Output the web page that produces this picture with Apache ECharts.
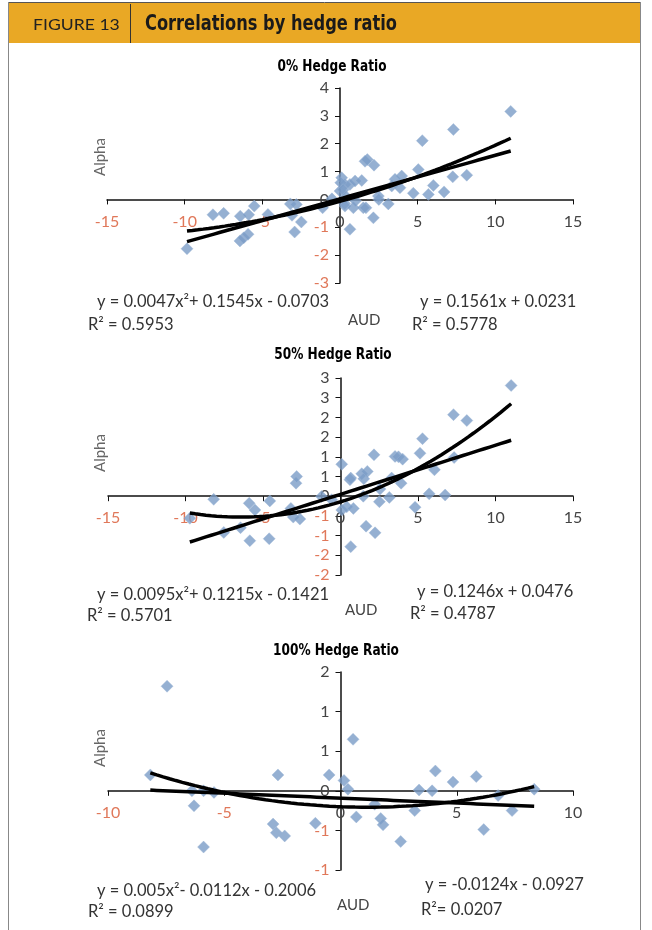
<!DOCTYPE html>
<html>
<head>
<meta charset="utf-8">
<script src="https://cdn.jsdelivr.net/npm/echarts@6/dist/echarts.min.js"></script>
<style>
  html, body { margin: 0; padding: 0; background: #fff; }
  #chart { width: 652px; height: 930px; }
</style>
</head>
<body>
<div id="chart"></div>
<script>
// scatter points [AUD, Alpha]
const hedge0Points = [
  [-9.85, -1.77], [-8.18, -0.55], [-7.49, -0.50], [-6.42, -0.60], [-5.88, -0.55],
  [-6.44, -1.49], [-6.2, -1.38], [-5.92, -1.25], [-5.52, -0.24], [-4.64, -0.54],
  [-3.20, -0.16], [-2.81, -0.18], [-3.09, -0.57], [-2.92, -1.17], [-2.49, -0.81],
  [-1.12, -0.30], [-0.52, 0.02], [0.11, 0.78], [0.32, 0.54], [0.64, 0.54],
  [0.97, 0.66], [1.40, 0.68], [1.61, 1.37], [1.76, 1.43], [2.19, 1.23],
  [0.0, 0.30], [0.05, 0.60], [0.2, 0.35], [0.4, 0.1], [0.3, -0.15],
  [0.32, -0.24], [0.86, -0.30], [0.64, -1.07], [1.50, -0.30], [1.67, -0.30],
  [2.15, -0.66], [2.47, 0.12], [2.5, 0.0], [3.11, -0.16], [3.33, 0.48],
  [3.54, 0.72], [3.86, 0.42], [3.97, 0.84], [4.72, 0.22], [5.04, 1.07],
  [5.30, 2.11], [5.69, 0.18], [6.01, 0.50], [6.70, 0.27], [7.26, 0.81],
  [7.30, 2.51], [8.16, 0.87], [10.99, 3.16], [1.0, -0.05]
];
const hedge50Points = [
  [-9.72, -0.56], [-8.18, -0.08], [-7.53, -0.92], [-6.45, -0.80], [-5.89, -0.18],
  [-5.85, -1.13], [-5.52, -0.35], [-4.56, -0.12], [-4.60, -1.08], [-3.20, -0.31],
  [-3.05, -0.53], [-2.62, -0.58], [-2.87, 0.33], [-2.83, 0.50], [-1.22, -0.01],
  [-0.57, -0.09], [0.08, 0.81], [0.08, -0.35], [0.40, -0.27], [0.61, 0.42],
  [0.66, 0.46], [0.83, -0.31], [0.66, -1.28], [1.37, 0.57], [1.50, 0.44],
  [1.73, 0.63], [1.47, 0.0], [1.65, -0.76], [2.16, 1.05], [2.23, -0.93],
  [2.51, -0.14], [2.55, 0.18], [3.15, -0.03], [3.3, 0.46], [3.52, 1.01],
  [3.74, 1.0], [4.01, 0.94], [3.91, 0.33], [4.81, -0.28], [5.13, 1.09],
  [5.29, 1.46], [5.72, 0.06], [6.06, 0.67], [6.75, 0.03], [7.29, 2.07],
  [7.33, 0.98], [8.15, 1.92], [11.01, 2.81]
];
const hedge100Points = [
  [-8.18, 0.20], [-7.46, 1.32], [-6.39, 0.0], [-6.30, -0.19], [-5.89, 0.0],
  [-5.89, -0.71], [-5.44, -0.02], [-2.90, -0.42], [-2.76, -0.53], [-2.69, 0.20],
  [-2.40, -0.57], [-1.08, -0.41], [-0.49, 0.20], [0.15, 0.13], [0.32, 0.02],
  [0.54, 0.65], [0.68, -0.33], [1.47, -0.17], [1.73, -0.35], [1.83, -0.43],
  [2.59, -0.64], [3.19, -0.25], [3.38, 0.01], [3.94, 0.0], [4.08, 0.25],
  [4.84, 0.11], [5.84, 0.18], [6.16, -0.49], [6.78, -0.06], [7.38, -0.25],
  [8.33, 0.02]
];

// trendline coefficients printed on the figure
const hedge0Poly = [0.0047, 0.1545, -0.0703];
const hedge0Lin = [0.1561, 0.0231];
const hedge50Poly = [0.0095, 0.1215, -0.1421];
const hedge50Lin = [0.1246, 0.0476];
const hedge100Poly = [0.005, -0.0112, -0.2006];
const hedge100Lin = [-0.0124, -0.0927];

const chartTitles = ['0% Hedge Ratio', '50% Hedge Ratio', '100% Hedge Ratio'];
const polyLabels = ['y = 0.0047x²+ 0.1545x - 0.0703', 'y = 0.0095x²+ 0.1215x - 0.1421', 'y = 0.005x²- 0.0112x - 0.2006'];
const polyR2 = ['R² = 0.5953', 'R² = 0.5701', 'R² = 0.0899'];
const linLabels = ['y = 0.1561x + 0.0231', 'y = 0.1246x + 0.0476', 'y = -0.0124x - 0.0927'];
const linR2 = ['R² = 0.5778', 'R² = 0.4787', 'R²= 0.0207'];

const xRanges = [[-15, 15, 5], [-15, 15, 5], [-10, 10, 5]];
const yRanges = [[-3, 4, 1], [-2, 3, 0.5], [-1, 1.5, 0.5]];

const NEG = '#E0785A';
const POS = '#444';
const DOT = '#7A9CC7';
const FONT = 'Lato, "Open Sans", sans-serif';
const BOLD = '"DejaVu Sans Condensed", "Liberation Sans Narrow", sans-serif';

function curve(coef, x0, x1) {
  const out = [];
  const n = 60;
  for (let i = 0; i <= n; i++) {
    const x = x0 + (x1 - x0) * i / n;
    let y = 0;
    coef.forEach(c => { y = y * x + c; });
    out.push([x, y]);
  }
  return out;
}

// excel "0" number format rounds half away from zero
function excelRound(v) {
  const r = Math.sign(v) * Math.round(Math.abs(v));
  return r === 0 ? '0' : String(r);
}

const datasets = [
  { pts: hedge0Points, poly: hedge0Poly, lin: hedge0Lin },
  { pts: hedge50Points, poly: hedge50Poly, lin: hedge50Lin },
  { pts: hedge100Points, poly: hedge100Poly, lin: hedge100Lin },
];

const grids = [
  { left: 107, top: 88, width: 466, height: 195 },
  { left: 108, top: 378, width: 465, height: 197 },
  { left: 108, top: 672, width: 465, height: 198 },
];

const textPos = [
  { title: [332, 67], alpha: 157, polyEq: [97, 302], polyR: [88, 325], linEq: [420, 302], linR: [412, 325], aud: [348, 320] },
  { title: [333, 355], alpha: 453, polyEq: [97, 595], polyR: [87, 616], linEq: [417, 592], linR: [410, 614], aud: [345, 610] },
  { title: [336, 651], alpha: 748, polyEq: [97, 891], polyR: [88, 912], linEq: [425, 885], linR: [421, 910], aud: [337, 905] },
];

const xAxis = [], yAxis = [], series = [];
const graphic = [
  { type: 'rect', shape: { x: 8, y: 3, width: 633, height: 40 }, style: { fill: '#E9A825' } },
  { type: 'line', shape: { x1: 8, y1: 2.5, x2: 641, y2: 2.5 }, style: { stroke: '#555', lineWidth: 1 } },
  { type: 'line', shape: { x1: 8.5, y1: 2, x2: 8.5, y2: 930 }, style: { stroke: '#888', lineWidth: 1 } },
  { type: 'line', shape: { x1: 640.5, y1: 2, x2: 640.5, y2: 930 }, style: { stroke: '#888', lineWidth: 1 } },
  { type: 'line', shape: { x1: 130.5, y1: 4, x2: 130.5, y2: 43 }, style: { stroke: '#333', lineWidth: 1 } },
  { type: 'text', x: 33, y: 25, scaleX: 1.1, style: { text: 'FIGURE 13', font: '16px ' + FONT, fill: '#222', verticalAlign: 'middle' } },
  { type: 'text', x: 145, y: 25, scaleX: 0.86, style: { text: 'Correlations by hedge ratio', font: 'bold 21px ' + BOLD, fill: '#1a1a1a', verticalAlign: 'middle' } },
];

datasets.forEach((d, i) => {
  const [xmin, xmax, xint] = xRanges[i];
  const [ymin, ymax, yint] = yRanges[i];
  const g = grids[i];
  // put the axes through the origin, labels included
  const xOffset = -g.height * (0 - ymin) / (ymax - ymin);
  const yOffset = -g.width * (0 - xmin) / (xmax - xmin);
  xAxis.push({
    type: 'value', gridIndex: i, min: xmin, max: xmax, interval: xint,
    offset: xOffset,
    splitLine: { show: false },
    axisLine: { onZero: false, lineStyle: { color: '#111', width: 1.5 } },
    axisTick: { length: 5, lineStyle: { color: '#111' } },
    axisLabel: {
      margin: 14, fontSize: 16, fontFamily: FONT,
      color: v => (v < 0 ? NEG : POS),
    },
  });
  yAxis.push({
    type: 'value', gridIndex: i, min: ymin, max: ymax, interval: yint,
    offset: yOffset,
    splitLine: { show: false },
    axisLine: { onZero: false, lineStyle: { color: '#111', width: 1.5 } },
    axisTick: { length: 5, lineStyle: { color: '#111' } },
    axisLabel: {
      margin: 11, fontSize: 16, fontFamily: FONT,
      formatter: excelRound,
      color: v => (v < 0 ? NEG : POS),
    },
  });
  const xs = d.pts.map(p => p[0]);
  const x0 = Math.min(...xs), x1 = Math.max(...xs);
  series.push({
    type: 'scatter', xAxisIndex: i, yAxisIndex: i, data: d.pts,
    symbol: 'diamond', symbolSize: [12, 12],
    itemStyle: { color: DOT, borderColor: '#9DB7D8', borderWidth: 0.5 },
    z: 3,
  });
  [d.poly, d.lin].forEach(coef => {
    series.push({
      type: 'line', xAxisIndex: i, yAxisIndex: i, data: curve(coef, x0, x1),
      showSymbol: false, smooth: false, lineStyle: { color: '#000', width: 3.5 },
      z: 4, silent: true,
    });
  });

  const t = textPos[i];
  const eqFont = '16.5px ' + FONT;
  graphic.push(
    { type: 'text', x: t.title[0], y: t.title[1], scaleX: 0.9, style: { text: chartTitles[i], font: 'bold 15px ' + BOLD, fill: '#000', align: 'center', verticalAlign: 'middle' } },
    { type: 'text', x: 100, y: t.alpha, rotation: Math.PI / 2, style: { text: 'Alpha', font: '15px ' + FONT, fill: '#666', align: 'center', verticalAlign: 'middle' } },
    { type: 'text', x: t.polyEq[0], y: t.polyEq[1], style: { text: polyLabels[i], font: eqFont, fill: '#333', verticalAlign: 'middle' } },
    { type: 'text', x: t.polyR[0], y: t.polyR[1], style: { text: polyR2[i], font: eqFont, fill: '#333', verticalAlign: 'middle' } },
    { type: 'text', x: t.linEq[0], y: t.linEq[1], style: { text: linLabels[i], font: eqFont, fill: '#333', verticalAlign: 'middle' } },
    { type: 'text', x: t.linR[0], y: t.linR[1], style: { text: linR2[i], font: eqFont, fill: '#333', verticalAlign: 'middle' } },
    { type: 'text', x: t.aud[0], y: t.aud[1], style: { text: 'AUD', font: '15px ' + FONT, fill: '#444', verticalAlign: 'middle' } }
  );
});

const chart = echarts.init(document.getElementById('chart'));
chart.setOption({
  animation: false,
  backgroundColor: '#fff',
  grid: grids,
  xAxis,
  yAxis,
  series,
  graphic,
});
</script>
</body>
</html>
